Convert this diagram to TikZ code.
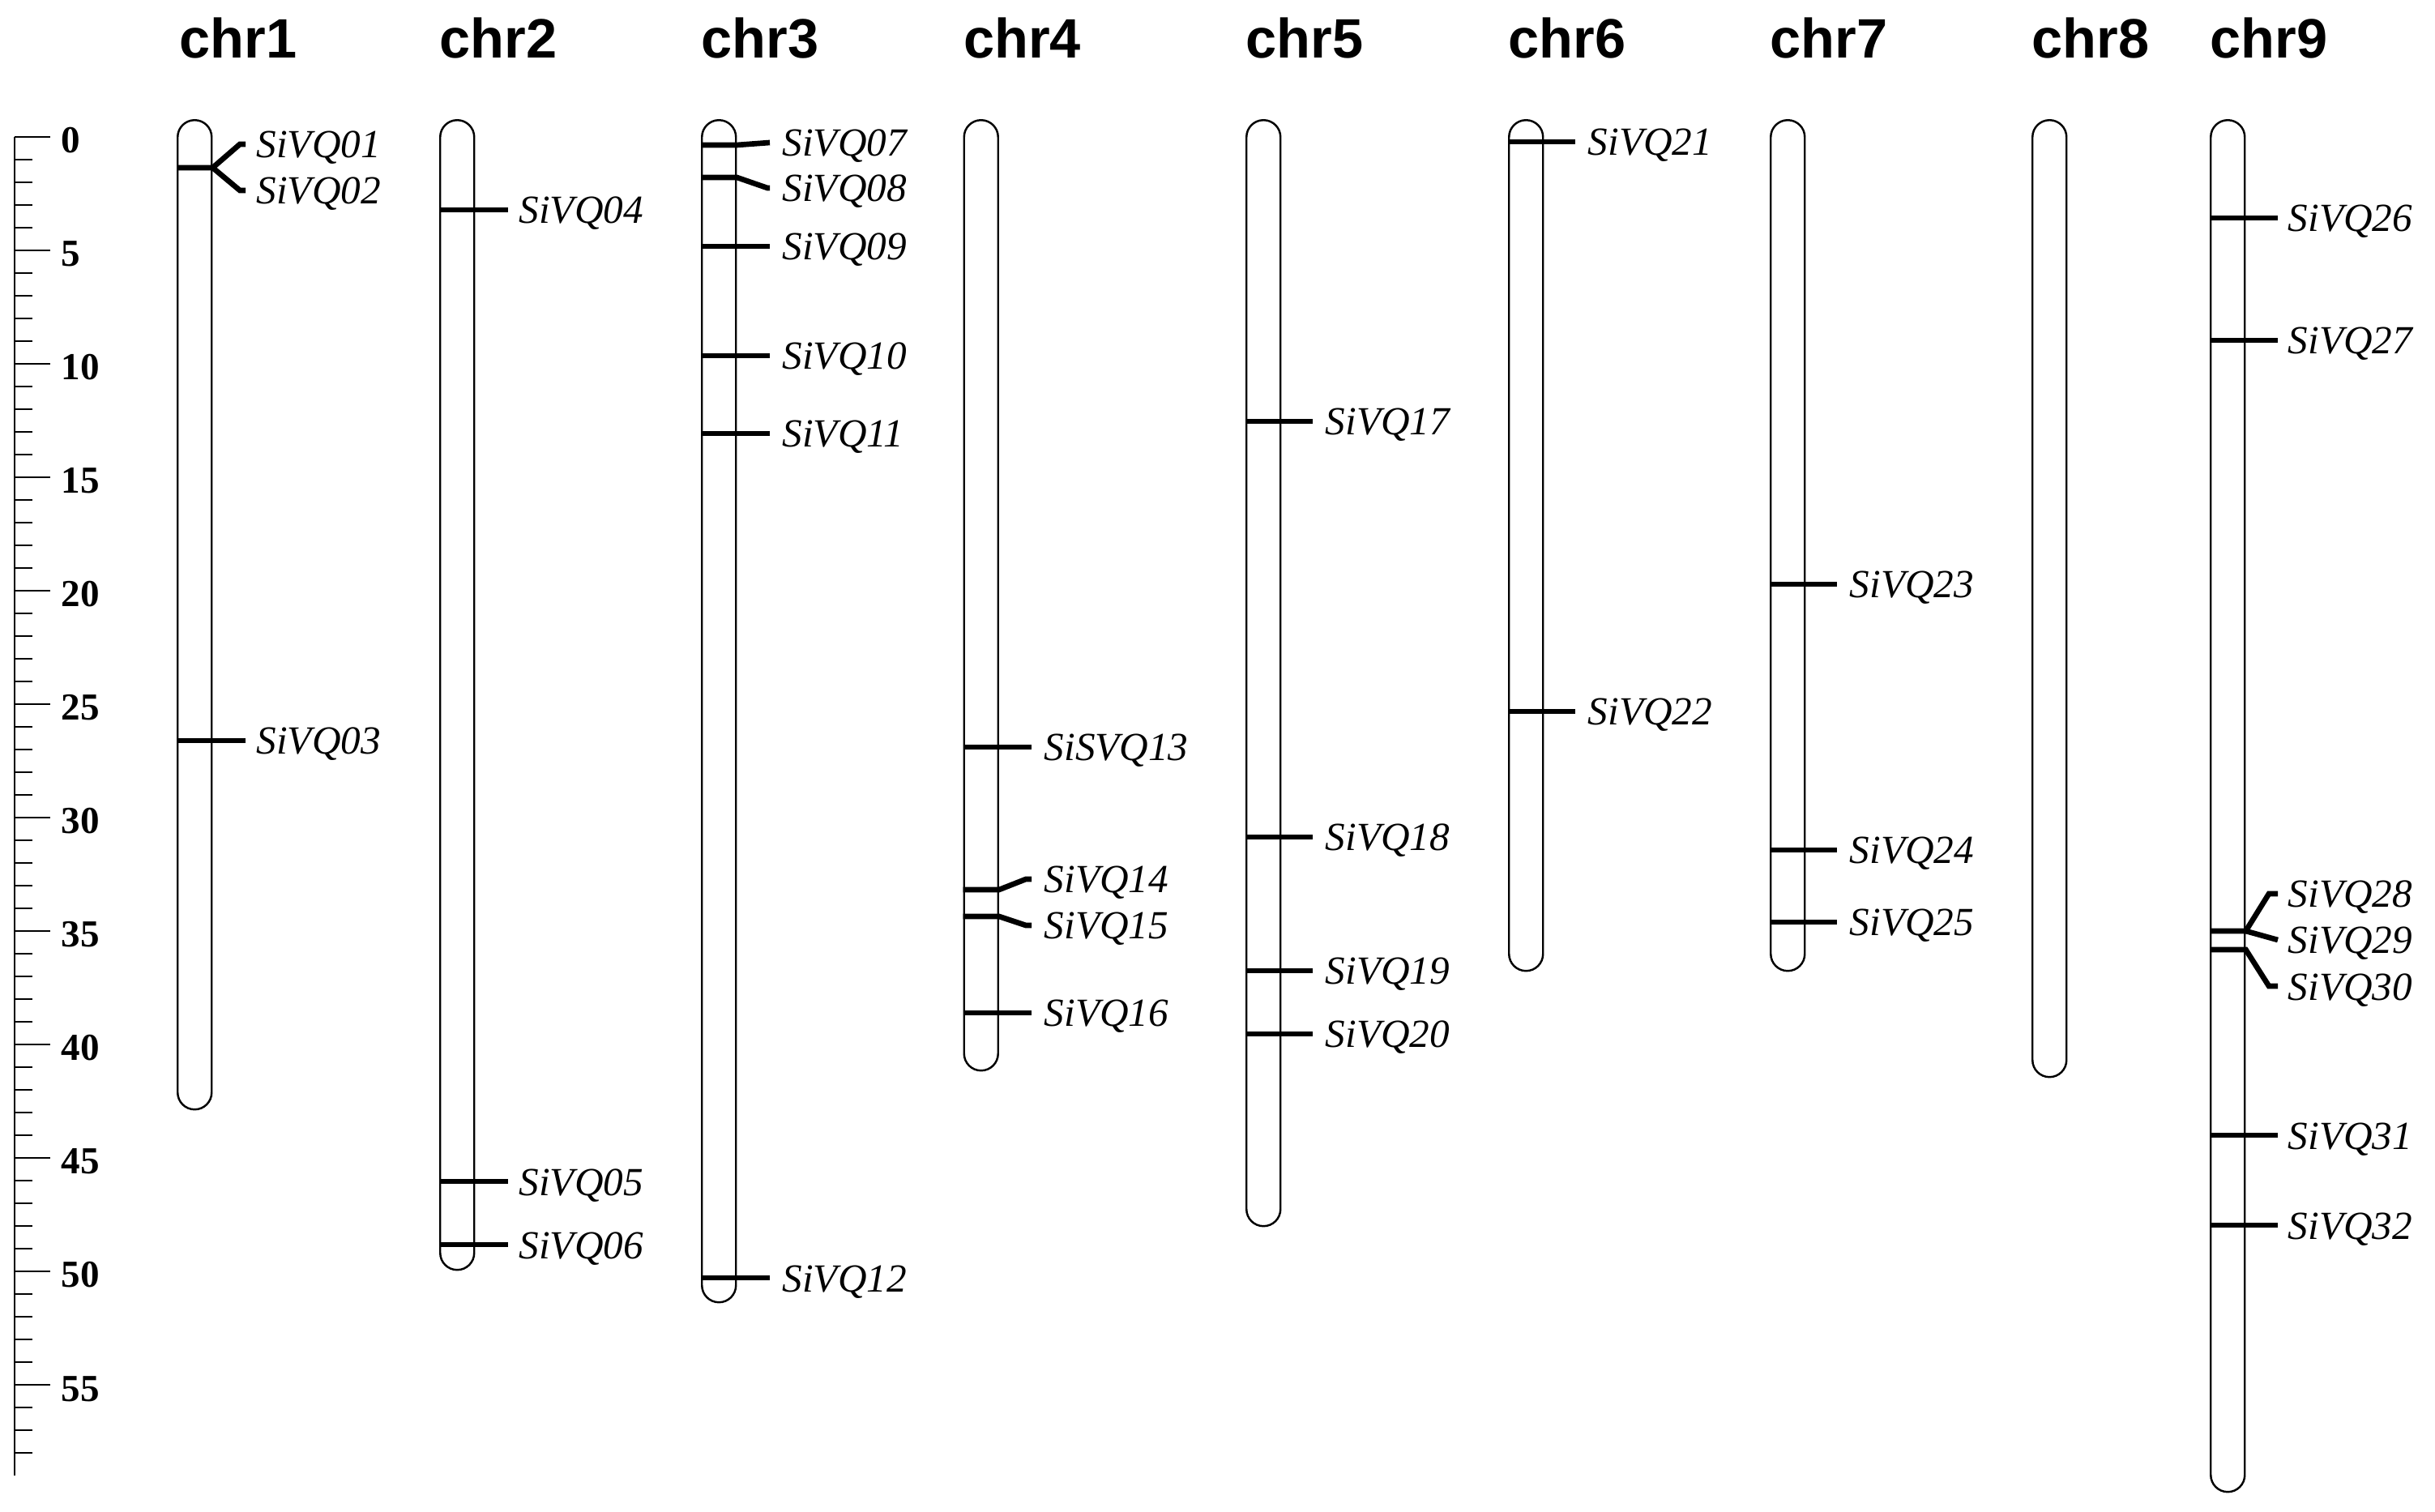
\documentclass[tikz,border=0pt]{standalone}
\usepackage{fontspec}
\setmainfont{Liberation Serif}
\newfontfamily\chrfont{Liberation Sans}
\tikzset{
	chrom/.style={draw, rectangle, rounded corners=0.21cm, minimum width=0.42cm, inner sep=0pt, anchor=north west, line width=0.7pt},
	chrname/.style={anchor=base west, inner sep=0pt, font=\chrfont\bfseries\fontsize{19.5}{21}\selectfont},
	gene/.style={anchor=west, inner sep=0pt, text height=0.34cm, text depth=0pt, font=\itshape\fontsize{14}{15}\selectfont},
	hit/.style={line width=1.9pt},
	rulerline/.style={line width=0.7pt},
	rulernum/.style={anchor=base west, inner sep=0pt, font=\bfseries\fontsize{13.4}{15}\selectfont}
}
\begin{document}
\begin{tikzpicture}
	\useasboundingbox (0,0) rectangle (30.05,-18.66);
	% ruler
	\coordinate (rtop) at (0.18,-1.69);
	\coordinate (rbot) at (0.18,-18.21);
	\draw[rulerline] (rtop) -- (rbot);
	\foreach \v in {0,...,58}
		\draw[rulerline] ([yshift=-\v*0.28cm]rtop) -- ([yshift=-\v*0.28cm,xshift=0.22cm]rtop);
	\foreach \v in {0,5,...,55} {
		\draw[rulerline] ([yshift=-\v*0.28cm]rtop) -- ([yshift=-\v*0.28cm,xshift=0.44cm]rtop);
		\node[rulernum] (r\v) at ([yshift=-\v*0.28cm-0.2cm,xshift=0.57cm]rtop) {\v};
	}
	% chromosomes
	\node[chrom, minimum height=12.21cm] (chr1) at (2.18,-1.47) {};
	\node[chrom, minimum height=14.19cm] (chr2) at (5.42,-1.47) {};
	\node[chrom, minimum height=14.59cm] (chr3) at (8.65,-1.47) {};
	\node[chrom, minimum height=11.73cm] (chr4) at (11.885,-1.47) {};
	\node[chrom, minimum height=13.65cm] (chr5) at (15.37,-1.47) {};
	\node[chrom, minimum height=10.5cm] (chr6) at (18.61,-1.47) {};
	\node[chrom, minimum height=10.5cm] (chr7) at (21.84,-1.47) {};
	\node[chrom, minimum height=11.81cm] (chr8) at (25.07,-1.47) {};
	\node[chrom, minimum height=16.93cm] (chr9) at (27.27,-1.47) {};
	% names
	\node[chrname] (n1) at ([yshift=0.75cm,xshift=0.03cm]chr1.north west) {chr1};
	\node[chrname] (n2) at ([yshift=0.75cm]chr2.north west) {chr2};
	\node[chrname] (n3) at ([yshift=0.75cm]chr3.north west) {chr3};
	\node[chrname] (n4) at ([yshift=0.75cm]chr4.north west) {chr4};
	\node[chrname] (n5) at ([yshift=0.75cm]chr5.north west) {chr5};
	\node[chrname] (n6) at ([yshift=0.75cm]chr6.north west) {chr6};
	\node[chrname] (n7) at ([yshift=0.75cm]chr7.north west) {chr7};
	\node[chrname] (n8) at ([yshift=0.75cm]chr8.north west) {chr8};
	\node[chrname] (n9) at ([yshift=0.75cm]chr9.north west) {chr9};
	% genes on chr1
	\node[gene] (q01) at (3.16,-1.78) {SiVQ01};
	\node[gene] (q02) at (3.16,-2.35) {SiVQ02};
	\node[gene] (q03) at (3.16,-9.14) {SiVQ03};
	\draw[hit] (chr1.west |- 0,-2.07) -- (chr1.east |- 0,-2.07) -- ([xshift=-0.2cm]q01.west) -- ([xshift=-0.13cm]q01.west);
	\draw[hit] (chr1.east |- 0,-2.07) -- ([xshift=-0.2cm]q02.west) -- ([xshift=-0.13cm]q02.west);
	\draw[hit] (chr1.west |- q03) -- ([xshift=-0.13cm]q03.west);
	% genes on chr2
	\node[gene] (q04) at (6.40,-2.59) {SiVQ04};
	\node[gene] (q05) at (6.40,-14.58) {SiVQ05};
	\node[gene] (q06) at (6.40,-15.36) {SiVQ06};
	\draw[hit] (chr2.west |- q04) -- ([xshift=-0.13cm]q04.west);
	\draw[hit] (chr2.west |- q05) -- ([xshift=-0.13cm]q05.west);
	\draw[hit] (chr2.west |- q06) -- ([xshift=-0.13cm]q06.west);
	% genes on chr3
	\node[gene] (q07) at (9.65,-1.76) {SiVQ07};
	\node[gene] (q08) at (9.65,-2.32) {SiVQ08};
	\node[gene] (q09) at (9.65,-3.04) {SiVQ09};
	\node[gene] (q10) at (9.65,-4.39) {SiVQ10};
	\node[gene] (q11) at (9.65,-5.35) {SiVQ11};
	\node[gene] (q12) at (9.65,-15.77) {SiVQ12};
	\draw[hit] (chr3.west |- 0,-1.79) -- (chr3.east |- 0,-1.79) -- ([xshift=-0.15cm]q07.west);
	\draw[hit] (chr3.west |- 0,-2.19) -- (chr3.east |- 0,-2.19) -- ([xshift=-0.18cm]q08.west) -- ([xshift=-0.15cm]q08.west);
	\draw[hit] (chr3.west |- q09) -- ([xshift=-0.15cm]q09.west);
	\draw[hit] (chr3.west |- q10) -- ([xshift=-0.15cm]q10.west);
	\draw[hit] (chr3.west |- q11) -- ([xshift=-0.15cm]q11.west);
	\draw[hit] (chr3.west |- q12) -- ([xshift=-0.15cm]q12.west);
	% genes on chr4
	\node[gene] (q13) at (12.88,-9.22) {SiSVQ13};
	\node[gene] (q14) at (12.88,-10.85) {SiVQ14};
	\node[gene] (q15) at (12.88,-11.42) {SiVQ15};
	\node[gene] (q16) at (12.88,-12.50) {SiVQ16};
	\draw[hit] (chr4.west |- q13) -- ([xshift=-0.15cm]q13.west);
	\draw[hit] (chr4.west |- 0,-10.98) -- (chr4.east |- 0,-10.98) -- ([xshift=-0.22cm]q14.west) -- ([xshift=-0.15cm]q14.west);
	\draw[hit] (chr4.west |- 0,-11.31) -- (chr4.east |- 0,-11.31) -- ([xshift=-0.22cm]q15.west) -- ([xshift=-0.15cm]q15.west);
	\draw[hit] (chr4.west |- q16) -- ([xshift=-0.15cm]q16.west);
	% genes on chr5
	\node[gene] (q17) at (16.35,-5.20) {SiVQ17};
	\node[gene] (q18) at (16.35,-10.33) {SiVQ18};
	\node[gene] (q19) at (16.35,-11.98) {SiVQ19};
	\node[gene] (q20) at (16.35,-12.76) {SiVQ20};
	\draw[hit] (chr5.west |- q17) -- ([xshift=-0.15cm]q17.west);
	\draw[hit] (chr5.west |- q18) -- ([xshift=-0.15cm]q18.west);
	\draw[hit] (chr5.west |- q19) -- ([xshift=-0.15cm]q19.west);
	\draw[hit] (chr5.west |- q20) -- ([xshift=-0.15cm]q20.west);
	% genes on chr6
	\node[gene] (q21) at (19.59,-1.75) {SiVQ21};
	\node[gene] (q22) at (19.59,-8.78) {SiVQ22};
	\draw[hit] (chr6.west |- q21) -- ([xshift=-0.15cm]q21.west);
	\draw[hit] (chr6.west |- q22) -- ([xshift=-0.15cm]q22.west);
	% genes on chr7
	\node[gene] (q23) at (22.82,-7.21) {SiVQ23};
	\node[gene] (q24) at (22.82,-10.49) {SiVQ24};
	\node[gene] (q25) at (22.82,-11.38) {SiVQ25};
	\draw[hit] (chr7.west |- q23) -- ([xshift=-0.15cm]q23.west);
	\draw[hit] (chr7.west |- q24) -- ([xshift=-0.15cm]q24.west);
	\draw[hit] (chr7.west |- q25) -- ([xshift=-0.15cm]q25.west);
	% genes on chr9
	\node[gene] (q26) at (28.23,-2.69) {SiVQ26};
	\node[gene] (q27) at (28.23,-4.20) {SiVQ27};
	\node[gene] (q28) at (28.23,-11.03) {SiVQ28};
	\node[gene] (q29) at (28.23,-11.60) {SiVQ29};
	\node[gene] (q30) at (28.23,-12.17) {SiVQ30};
	\node[gene] (q31) at (28.23,-14.01) {SiVQ31};
	\node[gene] (q32) at (28.23,-15.12) {SiVQ32};
	\draw[hit] (chr9.west |- q26) -- ([xshift=-0.12cm]q26.west);
	\draw[hit] (chr9.west |- q27) -- ([xshift=-0.12cm]q27.west);
	\draw[hit] (chr9.west |- 0,-11.49) -- (chr9.east |- 0,-11.49) -- ([xshift=-0.23cm]q28.west) -- ([xshift=-0.12cm]q28.west);
	\draw[hit] (chr9.east |- 0,-11.49) -- ([xshift=-0.12cm]q29.west);
	\draw[hit] (chr9.west |- 0,-11.72) -- (chr9.east |- 0,-11.72) -- ([xshift=-0.23cm]q30.west) -- ([xshift=-0.12cm]q30.west);
	\draw[hit] (chr9.west |- q31) -- ([xshift=-0.12cm]q31.west);
	\draw[hit] (chr9.west |- q32) -- ([xshift=-0.12cm]q32.west);
\end{tikzpicture}
\end{document}
